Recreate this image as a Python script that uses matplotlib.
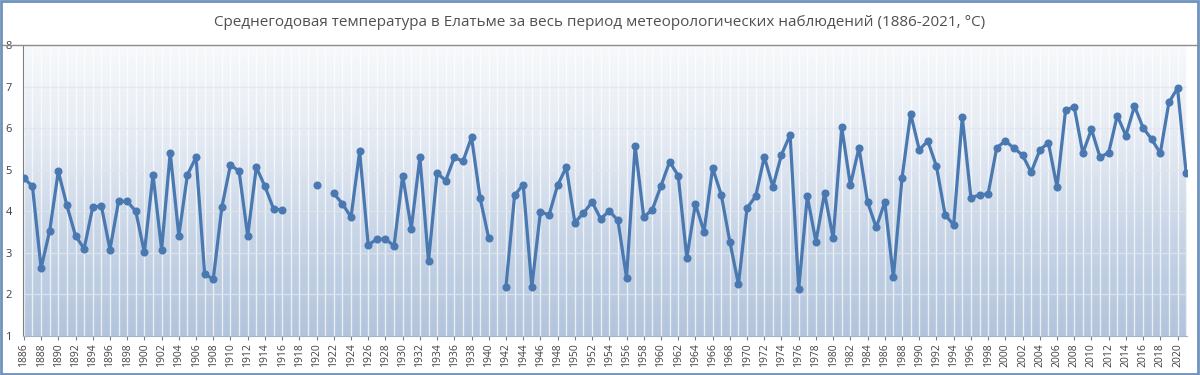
import matplotlib.pyplot as plt
import numpy as np
from matplotlib.colors import LinearSegmentedColormap

years = np.arange(1886, 2022)
nan = np.nan
temp = [
    4.80, 4.60, 2.63, 3.53, 4.96, 4.14, 3.41, 3.10, 4.10, 4.13,   # 1886-1895
    3.08, 4.24, 4.24, 4.00, 3.01, 4.88, 3.08, 5.41, 3.41, 4.88,   # 1896-1905
    5.30, 2.49, 2.37, 4.10, 5.12, 4.96, 3.41, 5.06, 4.60, 4.06,   # 1906-1915
    4.03, nan, nan, nan, 4.63, nan, 4.43, 4.18, 3.86, 5.44,       # 1916-1925
    3.19, 3.33, 3.33, 3.17, 4.86, 3.58, 5.30, 2.80, 4.92, 4.74,   # 1926-1935
    5.30, 5.20, 5.78, 4.31, 3.35, nan, 2.19, 4.39, 4.64, 2.18,    # 1936-1945
    3.99, 3.91, 4.63, 5.06, 3.73, 3.96, 4.22, 3.82, 4.01, 3.78,   # 1946-1955
    2.40, 5.57, 3.86, 4.04, 4.61, 5.19, 4.86, 2.88, 4.18, 3.51,   # 1956-1965
    5.04, 4.40, 3.27, 2.24, 4.08, 4.36, 5.31, 4.59, 5.36, 5.84,   # 1966-1975
    2.14, 4.36, 3.27, 4.44, 3.35, 6.02, 4.63, 5.53, 4.22, 3.61,   # 1976-1985
    4.22, 2.41, 4.80, 6.35, 5.48, 5.69, 5.08, 3.92, 3.67, 6.27,   # 1986-1995
    4.33, 4.39, 4.42, 5.53, 5.69, 5.52, 5.35, 4.94, 5.47, 5.65,   # 1996-2005
    4.58, 6.44, 6.51, 5.40, 5.97, 5.30, 5.41, 6.30, 5.82, 6.53,   # 2006-2015
    6.01, 5.73, 5.40, 6.62, 6.96, 4.92,                           # 2016-2021
]
temp = np.array(temp)

title = "Среднегодовая температура в Елатьме за весь период метеорологических наблюдений (1886-2021, °С)"

plt.rcParams['font.family'] = ['Open Sans', 'DejaVu Sans']

fig = plt.figure(figsize=(12, 3.75), dpi=100)
ax = fig.add_axes([23/1200, 1 - 336/375, (1187-23)/1200, (336-45)/375])

# gradient background of plot area
cmap = LinearSegmentedColormap.from_list('bg', ['#b2c4dc', '#c6d4e6', '#e4eaf3', '#f7f9fb'])
grad = np.linspace(0, 1, 256).reshape(-1, 1)
ax.imshow(grad, aspect='auto', cmap=cmap, origin='lower',
          extent=[0, 1, 0, 1], transform=ax.transAxes, zorder=0)

ax.set_xlim(1885.9, 2021.1)
ax.set_ylim(1, 8)

for y in years:
    ax.axvline(y, color='white', lw=1.0, alpha=0.7, zorder=1)
for v in range(2, 8):
    ax.axhline(v, color='#dfe6ef', lw=1.0, alpha=0.8, zorder=1)

ax.plot(years, temp, color='#4a78b0', lw=2.3, marker='o', ms=4.8, zorder=3)

ax.set_xticks(years[::2])
ax.set_xticklabels([str(y) for y in years[::2]], rotation=90, fontsize=7.5, color='#404040')
ax.set_yticks(range(1, 9))
ax.tick_params(axis='y', labelsize=8, colors='#404040', length=0, pad=8)
ax.tick_params(axis='x', length=3, color='#808080', pad=2)

for s in ['top', 'right']:
    ax.spines[s].set_visible(False)
ax.spines['left'].set_color('#7f7f7f')
ax.spines['bottom'].set_color('#a0b4cc')

fig.text(0.5, 1 - 22/375, title, ha='center', va='center', fontsize=11, color='#505050')
# separator line under title
fig.add_artist(plt.Line2D([0, 1], [1 - 45/375, 1 - 45/375], color='#8c8c8c', lw=1.0))
# outer frame
fig.add_artist(plt.Rectangle((0.001, 0.002), 0.997, 0.995, transform=fig.transFigure,
                             fill=False, ec='#6f93bd', lw=2))

fig.savefig('out.png', dpi=100)
